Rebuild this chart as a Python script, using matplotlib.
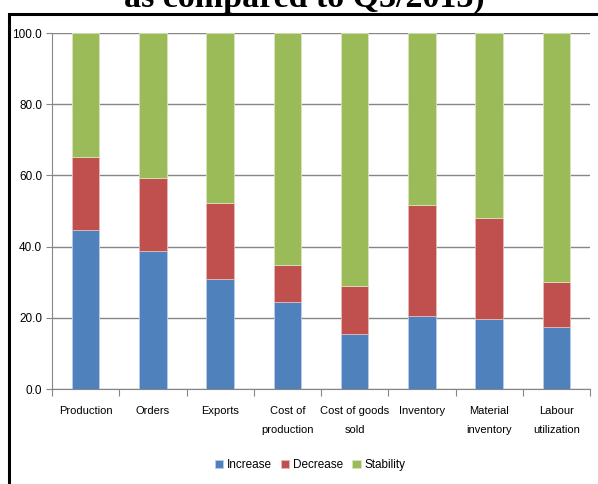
import matplotlib.pyplot as plt
from matplotlib.patches import Rectangle
import numpy as np

categories = ["Production", "Orders", "Exports", "Cost of\nproduction",
              "Cost of goods\nsold", "Inventory", "Material\ninventory",
              "Labour\nutilization"]
increase = [44.8, 38.7, 30.8, 24.4, 15.4, 20.5, 19.6, 17.3]
decrease = [20.4, 20.7, 21.4, 10.3, 13.6, 31.2, 28.4, 12.7]
stability = [34.8, 40.6, 47.8, 65.3, 71.0, 48.3, 52.0, 70.0]
yticks = [0, 20, 40, 60, 80, 100]

plt.rcParams['font.family'] = ['Liberation Sans', 'DejaVu Sans']

fig = plt.figure(figsize=(5.98, 4.84), dpi=100)
ax = fig.add_axes([52/598, 1-389/484, 538/598, 356/484])

x = np.arange(len(categories))
w = 0.41
inc = np.array(increase)
dec = np.array(decrease)
sta = np.array(stability)
ax.bar(x, inc, w, color='#4f81bd', edgecolor='#b9cde5', linewidth=0.6, label='Increase', zorder=3)
ax.bar(x, dec, w, bottom=inc, color='#c0504d', edgecolor='#e6b9b8', linewidth=0.6, label='Decrease', zorder=3)
ax.bar(x, sta, w, bottom=inc+dec, color='#9bbb59', edgecolor='#d7e4bd', linewidth=0.6, label='Stability', zorder=3)

ax.set_xlim(-0.5, len(categories)-0.5)
ax.set_ylim(0, 100)
ax.set_yticks(yticks)
ax.set_yticklabels([f"{v:.1f}" for v in yticks], fontsize=8.5)
ax.yaxis.grid(True, color='#868686', linewidth=1.0, zorder=0)
ax.set_xticks(np.arange(len(categories)+1)-0.5)
ax.set_xticklabels([])
ax.set_xticks(x, minor=True)
ax.set_xticklabels(categories, minor=True, fontsize=8, linespacing=2.2)
ax.tick_params(axis='x', which='minor', length=0, pad=12)
ax.tick_params(axis='x', which='major', length=5, color='#868686', direction='out')
ax.tick_params(axis='y', length=4, color='#868686', pad=3)
for s in ['top', 'right']:
    ax.spines[s].set_visible(False)
ax.spines['left'].set_color('#868686')
ax.spines['bottom'].set_color('#868686')

fig.legend(loc='center', bbox_to_anchor=(310/598, 1-465/484), ncol=3, frameon=False,
           fontsize=8.5, handlelength=0.7, handleheight=0.7, handletextpad=0.3,
           columnspacing=0.8)

fig.text(304/598, 1-7/484, "as compared to Q3/2013)", ha='center', va='baseline',
         fontsize=24.5, fontweight='bold', family='Liberation Serif')

fig.patches.append(Rectangle((9/598, -0.1), 1.2, 1-13.5/484+0.1, transform=fig.transFigure,
                             fill=False, edgecolor='black', linewidth=2.2))

fig.savefig('out.png', dpi=100)
